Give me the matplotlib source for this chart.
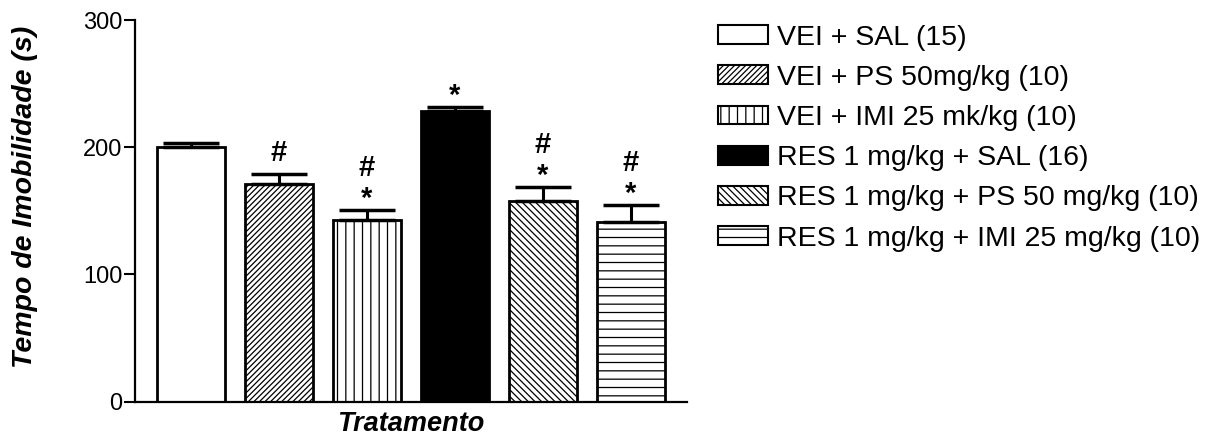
import numpy as np
import matplotlib
matplotlib.use("Agg")
import matplotlib.pyplot as plt

plt.rcParams['font.family'] = ['Liberation Sans', 'DejaVu Sans']
plt.rcParams['hatch.linewidth'] = 0.9

grupos = ["VEI + SAL (15)", "VEI + PS 50mg/kg (10)", "VEI + IMI 25 mk/kg (10)",
          "RES 1 mg/kg + SAL (16)", "RES 1 mg/kg + PS 50 mg/kg (10)",
          "RES 1 mg/kg + IMI 25 mg/kg (10)"]
medias = [200, 171, 143, 228.5, 158, 141]
epm = [3, 8, 8, 3, 11, 14]
sinal_asterisco = [False, False, True, True, True, True]
sinal_cerquilha = [False, True, True, False, True, True]

hachuras = ['', '//////', '||', '', '\\\\\\\\\\', '--']
cores = ['white', 'white', 'white', 'black', 'white', 'white']

fig = plt.figure(figsize=(12.11, 4.46), dpi=100)
ax = fig.add_axes([0.1115, 0.0993, 0.4558, 0.8557])

x = np.arange(len(grupos))
barras = ax.bar(x, medias, width=0.78, color=cores, edgecolor='black',
                linewidth=2, hatch=hachuras, label=grupos, zorder=2)
ax.errorbar(x, medias, yerr=[np.zeros(len(epm)), epm], fmt='none',
            ecolor='black', elinewidth=2.2, capsize=20, capthick=2.5, zorder=3)

# significancia acima das barras de erro
for xi, m, e, ast, cer in zip(x, medias, epm, sinal_asterisco, sinal_cerquilha):
    topo = m + e
    if ast:
        ax.annotate('*', (xi, topo), xytext=(0, 11), textcoords='offset pixels',
                    ha='center', va='center', fontsize=21, fontweight='bold')
    if cer:
        desl = 42 if ast else 21
        ax.annotate('#', (xi, topo), xytext=(0, desl), textcoords='offset pixels',
                    ha='center', va='center', fontsize=21, fontweight='bold')

ax.set_xlim(-0.636, 5.636)
ax.set_ylim(0, 300)
ax.set_yticks([0, 100, 200, 300])
ax.set_xticks([])
ax.tick_params(axis='y', direction='out', length=8, width=1.5, labelsize=17, pad=1)
for lado in ['top', 'right']:
    ax.spines[lado].set_visible(False)
ax.spines['left'].set_linewidth(1.6)
ax.spines['bottom'].set_linewidth(1.6)

ax.set_ylabel('Tempo de Imobilidade (s)', fontsize=20.5, fontweight='bold', style='italic')
ax.yaxis.set_label_coords(-0.175, 0.536)
ax.set_xlabel('Tratamento', fontsize=19.5, fontweight='bold', style='italic')
ax.xaxis.set_label_coords(0.5, -0.024)

leg = fig.legend(handles=barras.patches, labels=grupos, loc='upper left',
                 bbox_to_anchor=(0.593, 0.945), frameon=False, fontsize=20.5,
                 handlelength=1.75, handleheight=0.63, handletextpad=0.32,
                 labelspacing=0.5, borderpad=0, borderaxespad=0)
for h in leg.legend_handles:
    h.set_linewidth(1.5)

fig.savefig('out.png', dpi=100)
